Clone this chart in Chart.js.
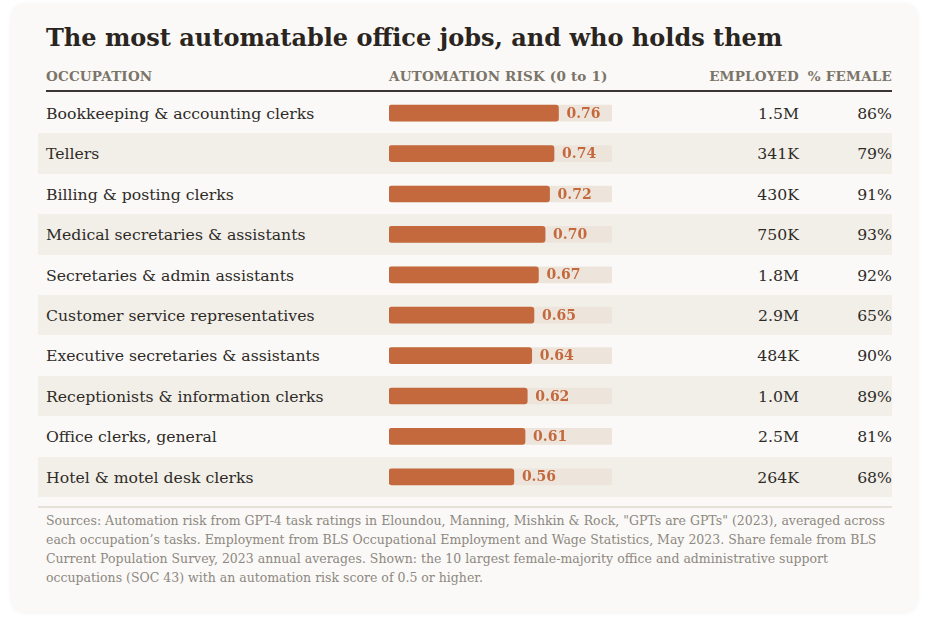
<!DOCTYPE html>
<html><head><meta charset="utf-8">
<script src="https://cdn.jsdelivr.net/npm/chart.js@4.4.1/dist/chart.umd.min.js"></script>
<style>
html,body{margin:0;padding:0;background:#ffffff;width:927px;height:621px;overflow:hidden;font-family:"DejaVu Serif",serif;}
#card{position:absolute;left:11px;top:3px;width:907px;height:609px;background:#faf9f7;border-radius:14px;box-shadow:0 1px 5px rgba(0,0,0,0.05);}
.abs{position:absolute;white-space:nowrap;}
#title{left:46px;top:23px;font-size:24px;font-weight:bold;color:#2a2520;line-height:30px;}
.hdr{position:absolute;top:68px;font-size:13.5px;font-weight:bold;color:#7b7468;line-height:17px;letter-spacing:0.2px;white-space:nowrap;}
#rule{position:absolute;left:46px;top:90px;width:846px;height:1.5px;background:#3a3632;}
.row{position:absolute;left:38px;width:854px;}
.shade{background:#f2efe9;}
.occ{position:absolute;left:8px;top:1px;font-size:15.7px;color:#2e2b27;}
.emp{position:absolute;right:93px;top:1px;font-size:15.7px;color:#2e2b27;}
.fem{position:absolute;right:0;top:1px;font-size:15.7px;color:#2e2b27;}
#chartBox{position:absolute;left:389px;top:93px;width:223px;height:404px;}
#bottomRule{position:absolute;left:38px;top:506px;width:854px;height:2px;background:#e6e2da;}
#foot{position:absolute;left:46px;top:511px;width:850px;font-size:12.5px;line-height:19px;color:#8d887f;}
</style>
</head><body>
<div id="card"></div>
<div id="title" class="abs"></div>
<div class="hdr" style="left:46px">OCCUPATION</div>
<div class="hdr" style="left:389px">AUTOMATION RISK (0 to 1)</div>
<div class="hdr" style="right:128px">EMPLOYED</div>
<div class="hdr" style="right:35px">% FEMALE</div>
<div id="rule"></div>
<div id="rows"></div>
<div id="chartBox"><canvas id="c" width="223" height="404"></canvas></div>
<div id="bottomRule"></div>
<div id="foot"></div>
<script>
const titleText = "The most automatable office jobs, and who holds them";
const occupations = [
  "Bookkeeping & accounting clerks",
  "Tellers",
  "Billing & posting clerks",
  "Medical secretaries & assistants",
  "Secretaries & admin assistants",
  "Customer service representatives",
  "Executive secretaries & assistants",
  "Receptionists & information clerks",
  "Office clerks, general",
  "Hotel & motel desk clerks"
];
const risk = [0.76, 0.74, 0.72, 0.70, 0.67, 0.65, 0.64, 0.62, 0.61, 0.56];
const employed = ["1.5M", "341K", "430K", "750K", "1.8M", "2.9M", "484K", "1.0M", "2.5M", "264K"];
const female = ["86%", "79%", "91%", "93%", "92%", "65%", "90%", "89%", "81%", "68%"];
const riskMax = 1;
const footText = 'Sources: Automation risk from GPT-4 task ratings in Eloundou, Manning, Mishkin & Rock, "GPTs are GPTs" (2023), averaged across each occupation\u2019s tasks. Employment from BLS Occupational Employment and Wage Statistics, May 2023. Share female from BLS Current Population Survey, 2023 annual averages. Shown: the 10 largest female-majority office and administrative support occupations (SOC 43) with an automation risk score of 0.5 or higher.';

document.getElementById('title').textContent = titleText;
document.getElementById('foot').textContent = footText;

const rowH = 40.4;
const rowsEl = document.getElementById('rows');
occupations.forEach((name, i) => {
  const r = document.createElement('div');
  r.className = 'row' + (i % 2 === 1 ? ' shade' : '');
  r.style.top = (93 + i * rowH) + 'px';
  r.style.height = rowH + 'px';
  r.style.lineHeight = rowH + 'px';
  const a = document.createElement('span'); a.className = 'occ'; a.textContent = name;
  const b = document.createElement('span'); b.className = 'emp'; b.textContent = employed[i];
  const c = document.createElement('span'); c.className = 'fem'; c.textContent = female[i];
  r.appendChild(a); r.appendChild(b); r.appendChild(c);
  rowsEl.appendChild(r);
});

const valueLabels = {
  id: 'valueLabels',
  afterDatasetsDraw(chart) {
    const ctx = chart.ctx;
    const meta = chart.getDatasetMeta(0);
    ctx.save();
    ctx.font = 'bold 14px "DejaVu Serif"';
    ctx.fillStyle = '#c4693d';
    ctx.textBaseline = 'middle';
    ctx.textAlign = 'left';
    meta.data.forEach((bar, i) => {
      ctx.fillText(risk[i].toFixed(2), bar.x + 8, bar.y + 1);
    });
    ctx.restore();
  }
};

new Chart(document.getElementById('c'), {
  type: 'bar',
  data: {
    labels: occupations,
    datasets: [
      {
        data: risk,
        backgroundColor: '#c4693d',
        barThickness: 16,
        borderRadius: 3,
        borderSkipped: false,
        grouped: false,
        order: 1
      },
      {
        data: occupations.map(() => riskMax),
        backgroundColor: '#ede5dc',
        barThickness: 16,
        borderRadius: 2,
        borderSkipped: false,
        grouped: false,
        order: 2
      }
    ]
  },
  options: {
    indexAxis: 'y',
    responsive: false,
    animation: false,
    layout: { padding: 0 },
    plugins: { legend: { display: false }, tooltip: { enabled: false } },
    scales: {
      x: { display: false, min: 0, max: riskMax },
      y: { display: false }
    }
  },
  plugins: [valueLabels]
});
</script>
</body></html>
